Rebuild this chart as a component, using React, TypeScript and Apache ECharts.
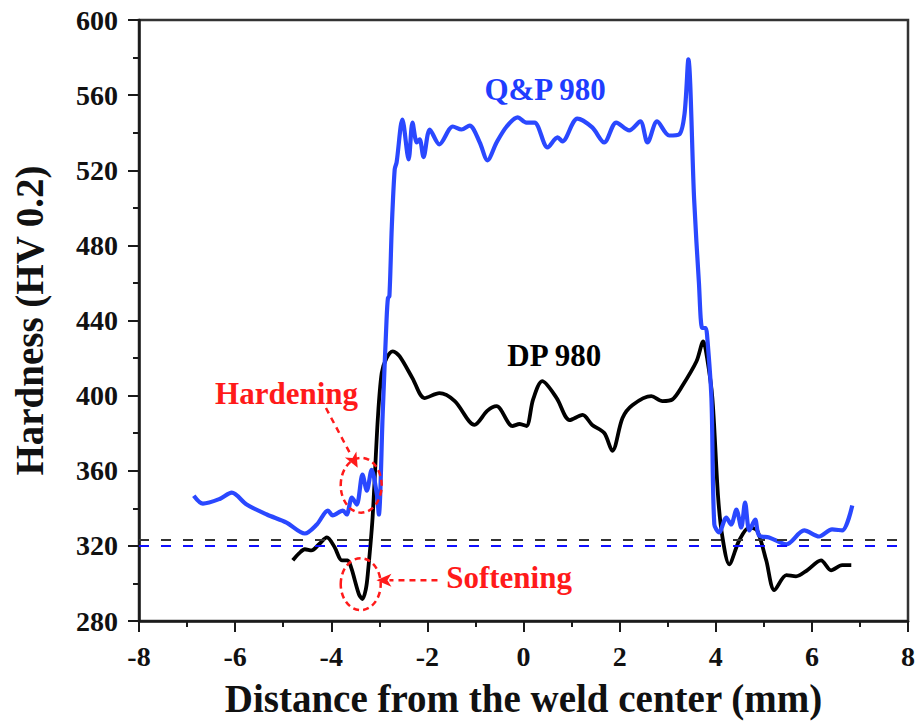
import React, { useEffect, useRef } from "react";
import * as echarts from "echarts";

// Distance from the weld center (mm) vs hardness (HV 0.2)
const qpData: [number, number][] = [
  [-6.86, 346.7], [-6.67, 342.5], [-6.32, 345], [-6.07, 348.3], [-5.76, 342], [-5.34, 336.7],
  [-4.93, 332.4], [-4.55, 326.6], [-4.30, 331.4], [-4.07, 338.8], [-3.97, 336.2], [-3.76, 338.8],
  [-3.68, 336.7], [-3.57, 345.7], [-3.47, 342], [-3.35, 357.9], [-3.26, 349.4], [-3.16, 360.5],
  [-3.05, 347.3], [-3.01, 336.7], [-2.93, 390], [-2.85, 440], [-2.82, 452], [-2.79, 453],
  [-2.74, 490], [-2.68, 520.5], [-2.64, 524.2], [-2.52, 547], [-2.39, 525.8], [-2.31, 545.4],
  [-2.22, 534.8], [-2.16, 536.4], [-2.08, 527], [-1.95, 541.7], [-1.75, 533.8], [-1.47, 543.3],
  [-1.29, 541.7], [-1.12, 543.8], [-0.91, 534.8], [-0.75, 525.3], [-0.56, 534.8], [-0.35, 543.3],
  [-0.12, 548.1], [0.06, 545.4], [0.23, 545.4], [0.50, 532.2], [0.71, 537.5], [0.81, 535.4],
  [1.12, 547.5], [1.43, 542.8], [1.68, 534.8], [1.93, 545.4], [2.20, 541.2], [2.43, 546],
  [2.58, 534.8], [2.78, 546], [3.03, 538.5], [3.24, 539.1], [3.35, 550], [3.43, 579],
  [3.55, 504.6], [3.65, 460], [3.72, 436], [3.79, 436], [3.82, 432], [3.91, 398.7],
  [3.97, 331.4], [4.07, 327.2], [4.22, 335.1], [4.32, 331.4], [4.43, 339.3], [4.53, 329.8],
  [4.61, 343], [4.70, 328.2], [4.82, 334], [4.90, 325.6], [5.11, 324.5], [5.47, 320.8],
  [5.84, 328.2], [6.15, 325], [6.42, 328.8], [6.63, 328.2], [6.84, 341.5],
];

const dpData: [number, number][] = [
  [-4.80, 312.3], [-4.67, 316], [-4.55, 318.2], [-4.41, 317.6], [-4.25, 321], [-4.09, 324.5],
  [-3.93, 319.3], [-3.78, 312.3], [-3.66, 312.3], [-3.58, 308], [-3.51, 301.7], [-3.42, 294],
  [-3.35, 291.7], [-3.28, 297], [-3.24, 304.9], [-3.14, 335.1], [-3.03, 388.1], [-2.95, 412],
  [-2.85, 420], [-2.72, 423.6], [-2.58, 421], [-2.31, 409.3], [-2.06, 398.7], [-1.75, 401.3],
  [-1.43, 397.1], [-1.02, 384.4], [-0.75, 392], [-0.56, 394.4], [-0.23, 383.8], [-0.08, 384.9],
  [0.06, 383.8], [0.20, 398], [0.39, 407.7], [0.69, 398.7], [0.96, 387], [1.23, 389.7],
  [1.43, 384.4], [1.68, 380.1], [1.85, 370.6], [2.06, 388.1], [2.27, 395], [2.66, 399.7],
  [2.89, 397.1], [3.10, 398], [3.30, 405], [3.60, 418.3], [3.74, 428.9], [3.82, 420],
  [3.93, 398.7], [4.05, 345.7], [4.14, 324.5], [4.28, 310.2], [4.49, 323], [4.70, 329.8],
  [4.86, 328.2], [5.05, 312.3], [5.22, 296.4], [5.47, 304.4], [5.67, 303.8], [5.90, 307],
  [6.19, 312.3], [6.40, 307], [6.63, 309.7], [6.82, 309.7],
];

const qpBaseline = 320;
const dpBaseline = 323;

const xRange = [-8, 8];
const yRange = [280, 600];

// annotation anchors in data coordinates
const qpLabelAt: [number, number] = [0.45, 563];
const dpLabelAt: [number, number] = [0.64, 421.5];
const hardLabelAt: [number, number] = [-4.93, 401];
const softLabelAt: [number, number] = [-0.3, 303];
const hardEllipse = { c: [-3.377, 352.3] as [number, number], rx: 0.426, ry: 14.6 };
const softEllipse = { c: [-3.387, 299.6] as [number, number], rx: 0.416, ry: 13.8 };
const hardArrow: [number, number][] = [[-4.11, 393.4], [-3.45, 361.6]];
const softArrow: [number, number][] = [[-1.79, 301.7], [-3.06, 301.7]];

const FONT = "'Liberation Serif', 'Times New Roman', serif";
const BLUE = "#2a48ff";
const RED = "#ff1a1a";
const AX = "#1a1a1a";

export default function App() {
  const ref = useRef<HTMLDivElement>(null);
  useEffect(() => {
    const chart = echarts.init(ref.current!, null, { renderer: "svg" });
    const axisCommon = {
      type: "value",
      axisLine: { show: true, onZero: false, lineStyle: { color: AX, width: 2.5 } },
      axisTick: { show: true, inside: false, length: 11, lineStyle: { color: AX, width: 2 } },
      minorTick: { show: true, splitNumber: 2, length: 6, lineStyle: { color: AX, width: 2 } },
      splitLine: { show: false },
      axisLabel: { fontSize: 28, fontWeight: "bold", color: "#111", fontFamily: FONT, margin: 21 },
      nameLocation: "middle",
      nameTextStyle: { fontSize: 39, fontWeight: "bold", color: "#111", fontFamily: FONT },
    };
    chart.setOption({
      animation: false,
      backgroundColor: "#fff",
      grid: { left: 139, right: 9, top: 20, bottom: 99, show: true, borderColor: "#333", borderWidth: 2.5 },
      xAxis: {
        ...axisCommon,
        min: xRange[0], max: xRange[1], interval: 2,
        name: "Distance from the weld center (mm)",
        nameGap: 58,
      },
      yAxis: {
        ...axisCommon,
        min: yRange[0], max: yRange[1], interval: 40,
        name: "Hardness (HV 0.2)",
        nameGap: 90,
      },
      series: [
        {
          type: "line", name: "Q&P 980", data: qpData, showSymbol: false, smooth: 0.3,
          lineStyle: { color: BLUE, width: 4.2 }, z: 3,
          markLine: {
            silent: true, symbol: "none", label: { show: false },
            lineStyle: { color: "#1010ff", width: 2, type: [10, 12] },
            data: [{ yAxis: qpBaseline }],
          },
        },
        {
          type: "line", name: "DP 980", data: dpData, showSymbol: false, smooth: 0.3,
          lineStyle: { color: "#000", width: 3.8 }, z: 2,
          markLine: {
            silent: true, symbol: "none", label: { show: false },
            lineStyle: { color: "#333", width: 2, type: [10, 12] },
            data: [{ yAxis: dpBaseline }],
          },
        },
      ],
    });

    const px = (p: [number, number]) => chart.convertToPixel({ gridIndex: 0 }, p) as number[];
    const text = (p: [number, number], s: string, color: string) => {
      const q = px(p);
      return {
        type: "text", x: q[0], y: q[1], z: 10,
        style: { text: s, fill: color, font: `bold 31px ${FONT}`, textAlign: "center", textVerticalAlign: "middle" },
      };
    };
    const ell = (e: { c: [number, number]; rx: number; ry: number }) => {
      const c = px(e.c);
      const a = px([e.c[0] + e.rx, e.c[1] + e.ry]);
      return {
        type: "ellipse", z: 10,
        shape: { cx: c[0], cy: c[1], rx: Math.abs(a[0] - c[0]), ry: Math.abs(a[1] - c[1]) },
        style: { fill: "none", stroke: RED, lineWidth: 2.5, lineDash: [6, 4] },
      };
    };
    const arrow = (pts: [number, number][]) => {
      const s = px(pts[0]);
      const t = px(pts[1]);
      const dx = t[0] - s[0], dy = t[1] - s[1];
      const L = Math.hypot(dx, dy);
      const ux = dx / L, uy = dy / L;
      const hl = 15, hw = 6.5;
      const bx = t[0] - ux * hl, by = t[1] - uy * hl;
      return [
        {
          type: "line", z: 10,
          shape: { x1: s[0], y1: s[1], x2: bx + ux * 2, y2: by + uy * 2 },
          style: { stroke: RED, lineWidth: 2.5, lineDash: [6, 5] },
        },
        {
          type: "polygon", z: 10,
          shape: { points: [[t[0], t[1]], [bx - uy * hw, by + ux * hw], [bx + ux * 4, by + uy * 4], [bx + uy * hw, by - ux * hw]] },
          style: { fill: RED },
        },
      ];
    };
    chart.setOption({
      graphic: [
        text(qpLabelAt, "Q&P 980", "#1f3dff"),
        text(dpLabelAt, "DP 980", "#000"),
        text(hardLabelAt, "Hardening", RED),
        text(softLabelAt, "Softening", RED),
        ell(hardEllipse),
        ell(softEllipse),
        ...arrow(hardArrow),
        ...arrow(softArrow),
      ],
    });
    return () => chart.dispose();
  }, []);
  return <div ref={ref} style={{ position: "fixed", left: 0, top: 0, width: 918, height: 723 }} />;
}
